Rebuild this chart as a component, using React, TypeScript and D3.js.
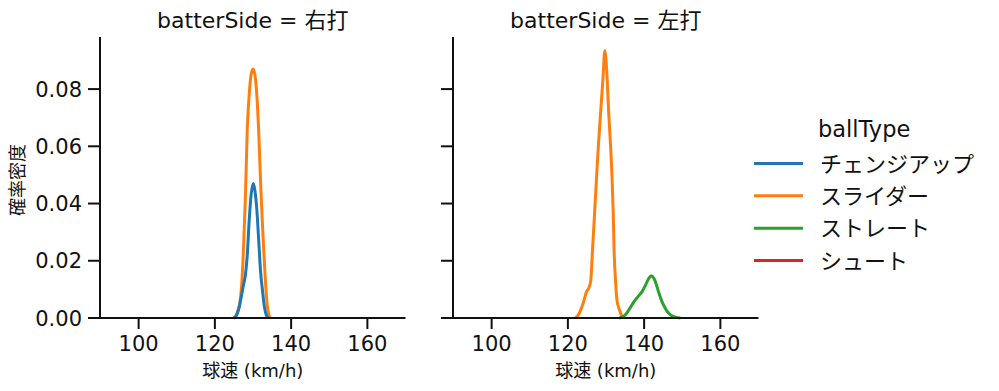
import * as d3 from "d3";

// 球速 (km/h) and density
const rightChangeupSpeed = [125, 125.5, 126, 126.5, 127, 127.5, 128, 128.5, 129, 129.5, 130.1, 130.5, 131, 131.5, 132, 132.5, 133, 133.5, 134];
const rightChangeupDensity = [0, 0.0005, 0.002, 0.0045, 0.008, 0.0115, 0.015, 0.022, 0.034, 0.043, 0.047, 0.0445, 0.038, 0.027, 0.016, 0.0095, 0.0038, 0.001, 0];

const rightSliderSpeed = [125, 125.5, 126, 126.5, 127, 127.5, 128, 128.5, 129, 129.5, 130, 130.5, 131, 131.5, 132, 132.5, 133, 133.5, 134, 134.5];
const rightSliderDensity = [0, 0.0008, 0.0025, 0.005, 0.011, 0.024, 0.042, 0.066, 0.078, 0.085, 0.087, 0.085, 0.078, 0.065, 0.047, 0.032, 0.019, 0.008, 0.002, 0];

const leftSliderSpeed = [122, 122.7, 123.3, 124.2, 124.9, 125.5, 126.0, 126.5, 127.0, 127.5, 128.0, 128.6, 129.2, 129.7, 130.3, 130.7, 131.2, 131.6, 131.9, 132.1, 132.5, 132.9, 133.6, 134.3];
const leftSliderDensity = [0, 0.001, 0.0026, 0.006, 0.0092, 0.0105, 0.013, 0.0247, 0.0364, 0.0486, 0.0602, 0.0719, 0.0836, 0.0935, 0.0836, 0.0719, 0.0602, 0.0486, 0.0364, 0.0247, 0.013, 0.006, 0.0026, 0];

const leftStraightSpeed = [133.5, 134.5, 135.5, 136.4, 137.5, 138.6, 139.5, 140.3, 141.2, 141.9, 142.6, 143.3, 144.0, 144.6, 145.3, 145.9, 147.0, 148.2, 149.5];
const leftStraightDensity = [0, 0.0005, 0.0018, 0.0037, 0.006, 0.0078, 0.0093, 0.0113, 0.0138, 0.0148, 0.0138, 0.0113, 0.0082, 0.006, 0.004, 0.0026, 0.001, 0.0003, 0];

const ballTypes = ["チェンジアップ", "スライダー", "ストレート", "シュート"];
const colors = ["#1f77b4", "#ff7f0e", "#2ca02c", "#d62728"];
const panelTitles = ["batterSide = 右打", "batterSide = 左打"];
const xTicks = [100, 120, 140, 160];
const yTicks = [0, 0.02, 0.04, 0.06, 0.08];

const font = "'DejaVu Sans', 'Noto Sans CJK JP', sans-serif";

type Curve = { speed: number[]; density: number[]; type: number };

const panels: Curve[][] = [
  [
    { speed: rightSliderSpeed, density: rightSliderDensity, type: 1 },
    { speed: rightChangeupSpeed, density: rightChangeupDensity, type: 0 },
  ],
  [
    { speed: leftSliderSpeed, density: leftSliderDensity, type: 1 },
    { speed: leftStraightSpeed, density: leftStraightDensity, type: 2 },
  ],
];

function Panel({ left, title, curves, showYLabels }: { left: number; title: string; curves: Curve[]; showYLabels: boolean }) {
  const x = d3.scaleLinear([90, 170], [left, left + 305]);
  const y = d3.scaleLinear([0, 0.0982], [318, 37]);
  const line = d3
    .line<[number, number]>()
    .x((d) => x(d[0]))
    .y((d) => y(d[1]))
    .curve(d3.curveMonotoneX);
  const axisLeft = Math.round(left - 0.5);
  return (
    <g>
      <text x={(axisLeft + left + 305) / 2} y={28} textAnchor="middle" fontSize={22} fontFamily={font} fill="#111">
        {title}
      </text>
      {curves.map((c, i) => (
        <path
          key={i}
          d={line(c.speed.map((s, j) => [s, c.density[j]] as [number, number])) || ""}
          fill="none"
          stroke={colors[c.type]}
          strokeWidth={3}
          strokeLinejoin="round"
        />
      ))}
      <line x1={axisLeft} x2={left + 305} y1={318} y2={318} stroke="#111" strokeWidth={2} />
      <line x1={axisLeft} x2={axisLeft} y1={37} y2={318} stroke="#111" strokeWidth={2} />
      {xTicks.map((t) => (
        <g key={t}>
          <line x1={x(t)} x2={x(t)} y1={318} y2={329} stroke="#111" strokeWidth={2} />
          <text x={x(t)} y={351} textAnchor="middle" fontSize={21} fontFamily={font} fill="#111">
            {t}
          </text>
        </g>
      ))}
      {yTicks.map((t) => (
        <g key={t}>
          <line x1={axisLeft - 12} x2={axisLeft} y1={y(t)} y2={y(t)} stroke="#111" strokeWidth={2} />
          {showYLabels && (
            <text x={axisLeft - 18} y={y(t) + 7.5} textAnchor="end" fontSize={21} fontFamily={font} fill="#111">
              {d3.format(".2f")(t)}
            </text>
          )}
        </g>
      ))}
      <text x={(axisLeft + left + 305) / 2} y={377} textAnchor="middle" fontSize={18} fontFamily={font} fill="#111">
        球速 (km/h)
      </text>
    </g>
  );
}

export default function App() {
  const legendY = d3.scaleLinear([0, 3], [163.5, 260.5]);
  return (
    <svg width={999} height={391} style={{ position: "absolute", left: 0, top: 0, background: "#fff" }}>
      <Panel left={100.5} title={panelTitles[0]} curves={panels[0]} showYLabels={true} />
      <Panel left={453.5} title={panelTitles[1]} curves={panels[1]} showYLabels={false} />
      <text
        transform="translate(24,180) rotate(-90)"
        textAnchor="middle"
        fontSize={18}
        fontFamily={font}
        fill="#111"
      >
        確率密度
      </text>
      <text x={818} y={137} fontSize={22.5} fontFamily={font} fill="#111">
        ballType
      </text>
      {ballTypes.map((b, i) => (
        <g key={b}>
          <line x1={754} x2={803} y1={legendY(i)} y2={legendY(i)} stroke={colors[i]} strokeWidth={3} />
          <text x={820} y={legendY(i) + 8} fontSize={22} fontFamily={font} fill="#111">
            {b}
          </text>
        </g>
      ))}
    </svg>
  );
}
